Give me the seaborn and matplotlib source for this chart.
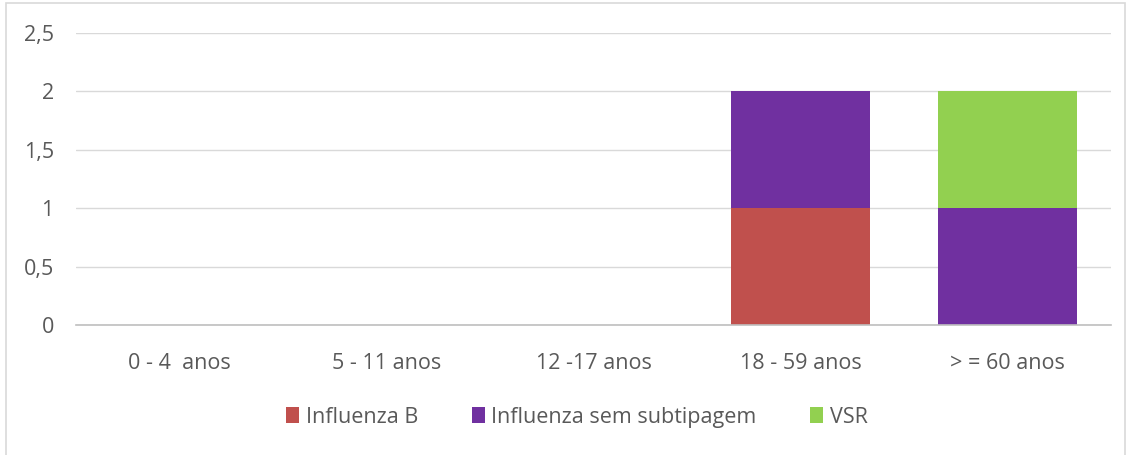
import numpy as np
import pandas as pd
import matplotlib
matplotlib.use("Agg")
import matplotlib.pyplot as plt
import seaborn as sns
from matplotlib.patches import Rectangle, Patch

# Data
faixas = ["0 - 4  anos", "5 - 11 anos", "12 -17 anos", "18 - 59 anos", "> = 60 anos"]
influenza_b = [0, 0, 0, 1, 0]
influenza_sem_subtip = [0, 0, 0, 1, 1]
vsr = [0, 0, 0, 0, 1]

series_names = ["Influenza B", "Influenza sem subtipagem", "VSR"]
series_vals = [influenza_b, influenza_sem_subtip, vsr]
colors = ["#C0504D", "#7030A0", "#92D050"]

sns.set_theme(style="white")
plt.rcParams["font.family"] = ["Open Sans", "DejaVu Sans"]

fig = plt.figure(figsize=(11.31, 4.55), dpi=100)
ax = fig.add_axes([0.0672, 0.2857, 0.9151, 0.6418])

bottom = np.zeros(len(faixas))
for name, vals, col in zip(series_names, series_vals, colors):
    df = pd.DataFrame({"faixa": faixas, "valor": vals})
    sns.barplot(data=df, x="faixa", y="valor", color=col, bottom=bottom,
                width=0.667, ax=ax, linewidth=0, saturation=1, errorbar=None)
    bottom = bottom + np.array(vals)

ax.set_ylim(0, 2.5)
ax.set_xlim(-0.5, len(faixas) - 0.5)
ax.set_yticks([0, 0.5, 1, 1.5, 2, 2.5])
ax.set_yticklabels(["0", "0,5", "1", "1,5", "2", "2,5"])
ax.yaxis.grid(True, color="#D9D9D9", linewidth=1)
ax.set_axisbelow(True)
for s in ["top", "right", "left"]:
    ax.spines[s].set_visible(False)
ax.spines["bottom"].set_color("#BFBFBF")
ax.spines["bottom"].set_linewidth(1.2)
ax.set_xlabel("")
ax.set_ylabel("")
ax.tick_params(axis="both", length=0, labelsize=15.5, colors="#595959")
ax.tick_params(axis="x", pad=20)
ax.tick_params(axis="y", pad=16)

handles = [Patch(facecolor=c, edgecolor="none") for c in colors]
fig.legend(handles, series_names, loc="center", bbox_to_anchor=(0.51, 0.083),
           ncol=3, frameon=False, fontsize=15.5, handlelength=0.6, handleheight=0.75,
           handletextpad=0.3, columnspacing=2.5, labelcolor="#595959")

# light chart border
fig.patches.append(Rectangle((0.005, -0.01), 0.99, 1.003, transform=fig.transFigure,
                             fill=False, edgecolor="#D9D9D9", linewidth=1.2))

fig.savefig("out.png", dpi=100)
